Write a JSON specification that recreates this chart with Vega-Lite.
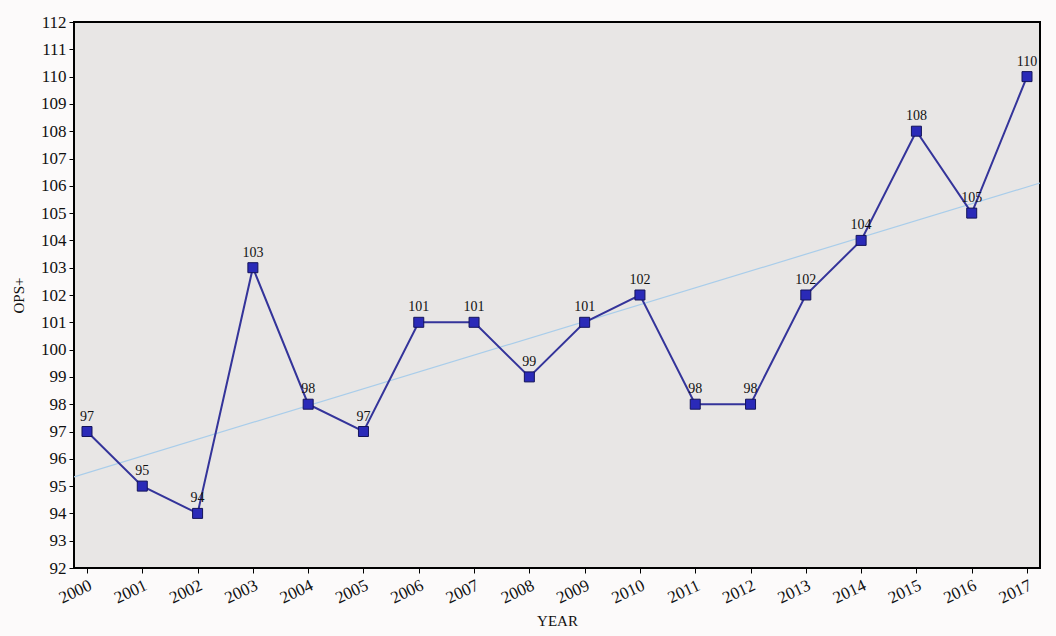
{
  "$schema": "https://vega.github.io/schema/vega-lite/v6.json",
  "width": 966,
  "height": 546,
  "autosize": {"type": "none"},
  "padding": {"left": 74, "top": 22, "right": 16, "bottom": 68},
  "background": "#fcfafa",
  "view": {"fill": "#e8e6e5", "stroke": "#000000", "strokeWidth": 2},
  "data": {"values": [
    {"YEAR": 2000, "OPS": 97}, {"YEAR": 2001, "OPS": 95}, {"YEAR": 2002, "OPS": 94},
    {"YEAR": 2003, "OPS": 103}, {"YEAR": 2004, "OPS": 98}, {"YEAR": 2005, "OPS": 97},
    {"YEAR": 2006, "OPS": 101}, {"YEAR": 2007, "OPS": 101}, {"YEAR": 2008, "OPS": 99},
    {"YEAR": 2009, "OPS": 101}, {"YEAR": 2010, "OPS": 102}, {"YEAR": 2011, "OPS": 98},
    {"YEAR": 2012, "OPS": 98}, {"YEAR": 2013, "OPS": 102}, {"YEAR": 2014, "OPS": 104},
    {"YEAR": 2015, "OPS": 108}, {"YEAR": 2016, "OPS": 105}, {"YEAR": 2017, "OPS": 110}
  ]},
  "encoding": {
    "x": {
      "field": "YEAR", "type": "quantitative",
      "scale": {"domain": [1999.765, 2017.235], "nice": false, "zero": false},
      "axis": {
        "title": "YEAR", "values": [2000,2001,2002,2003,2004,2005,2006,2007,2008,2009,2010,2011,2012,2013,2014,2015,2016,2017],
        "format": "d", "grid": false, "domain": false,
        "labelAngle": -25, "labelAlign": "right", "labelBaseline": "top",
        "labelFont": "Liberation Serif", "labelFontSize": 17, "labelColor": "#111111", "labelPadding": 4,
        "tickColor": "#000000", "tickSize": 5, "labelOverlap": false, "labelBound": false,
        "titleFont": "Liberation Serif", "titleFontSize": 15, "titleFontWeight": "normal", "titleColor": "#111111", "titlePadding": 8
      }
    },
    "y": {
      "field": "OPS", "type": "quantitative",
      "scale": {"domain": [92, 112], "nice": false, "zero": false},
      "axis": {
        "title": "OPS+", "values": [92,93,94,95,96,97,98,99,100,101,102,103,104,105,106,107,108,109,110,111,112],
        "format": "d", "grid": false, "domain": false,
        "labelFont": "Liberation Serif", "labelFontSize": 17, "labelColor": "#111111", "labelPadding": 3,
        "tickColor": "#000000", "tickSize": 5, "labelOverlap": false, "labelBound": false, "labelFlush": false,
        "titleFont": "Liberation Serif", "titleFontSize": 15, "titleFontWeight": "normal", "titleColor": "#111111", "titlePadding": 14
      }
    }
  },
  "layer": [
    {
      "transform": [{"regression": "OPS", "on": "YEAR", "extent": [1999.765, 2017.235]}],
      "mark": {"type": "line", "color": "#a9cdea", "strokeWidth": 1.2, "clip": true}
    },
    {
      "mark": {"type": "line", "color": "#34349a", "strokeWidth": 2}
    },
    {
      "mark": {"type": "square", "size": 100, "fill": "#2a2ab8", "stroke": "#14145a", "strokeWidth": 1, "opacity": 1}
    },
    {
      "mark": {"type": "text", "dy": -15, "font": "Liberation Serif", "fontSize": 14, "color": "#111111"},
      "encoding": {"text": {"field": "OPS", "type": "quantitative"}}
    }
  ]
}
